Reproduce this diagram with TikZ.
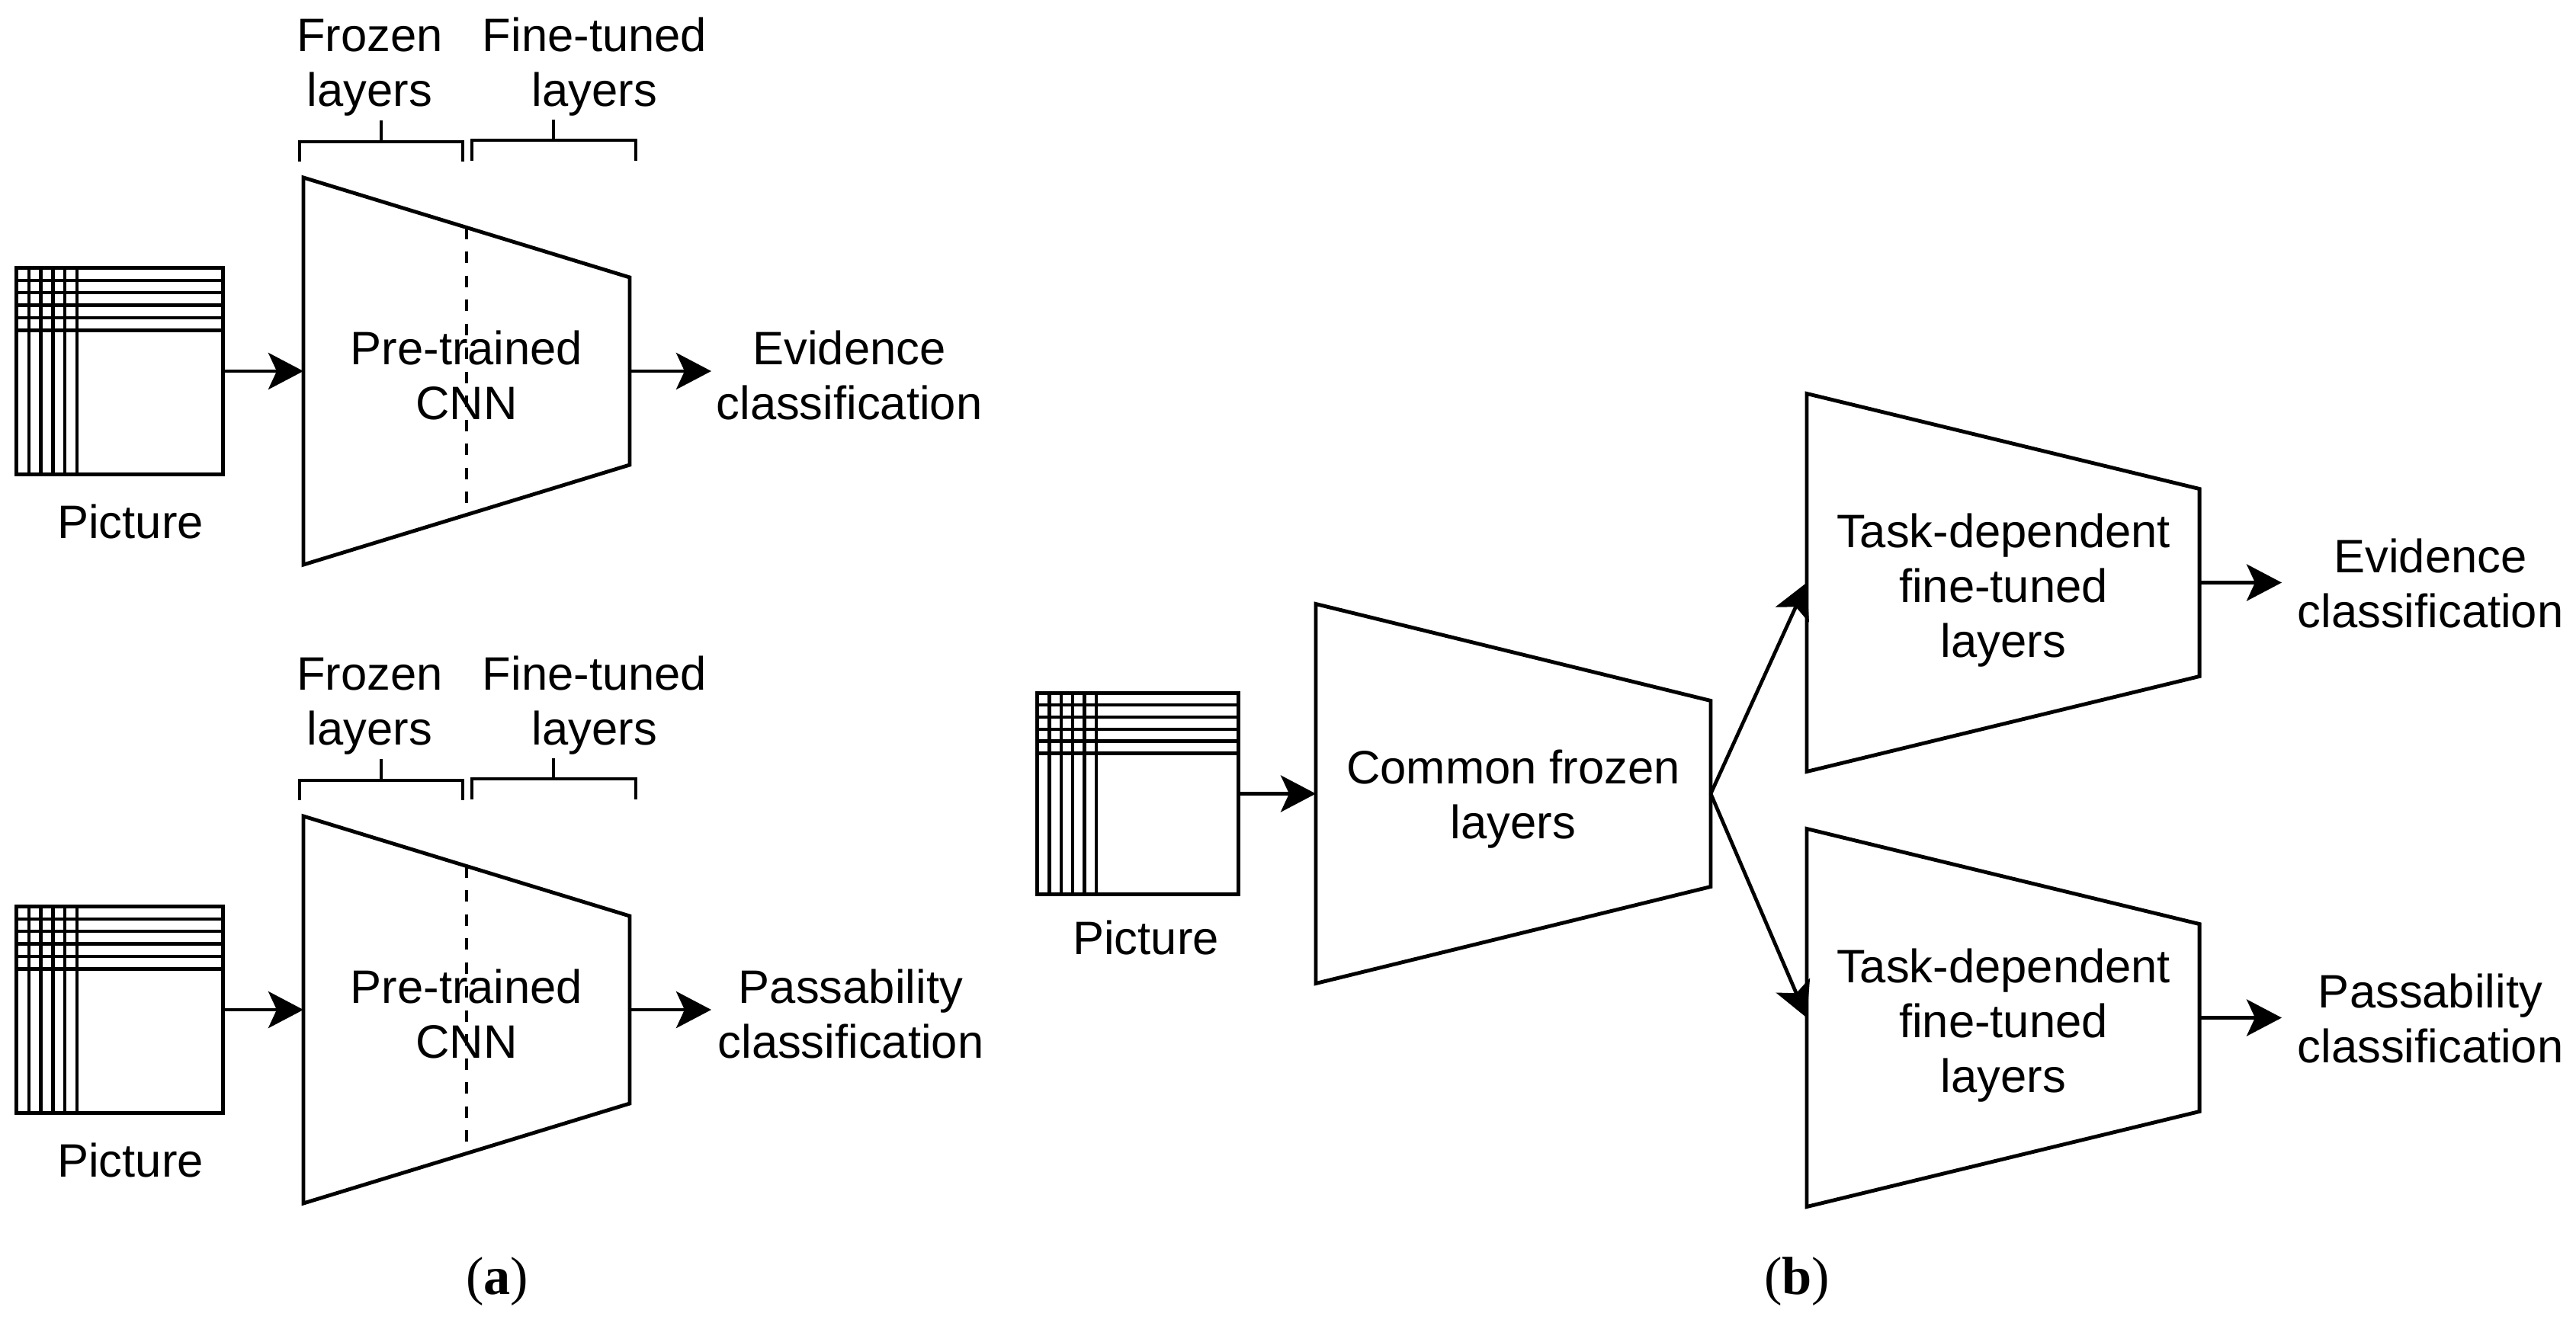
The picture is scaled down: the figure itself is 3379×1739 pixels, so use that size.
\documentclass[tikz,border=0pt]{standalone}
\usepackage{fontspec}
\setmainfont{Liberation Sans}
\newfontfamily\capfont{Liberation Serif}
\usetikzlibrary{arrows.meta}
\tikzset{
  lbl/.style={font=\fontsize{17.5}{20.5}\selectfont, align=center, inner sep=0pt},
  captxt/.style={font=\capfont\fontsize{20}{24}\selectfont, inner sep=0pt, anchor=base},
  shp/.style={line width=1.4pt, line join=miter},
  picbox/.style={draw, line width=1.4pt, rectangle, inner sep=0pt, outer sep=0pt},
  gridln/.style={line width=1.25pt},
  dashln/.style={line width=1.35pt, dash pattern=on 0.15cm off 0.165cm},
  brk/.style={line width=1.4pt, line join=miter},
  conn/.style={line width=1.35pt, -{Stealth[length=0.46cm,width=0.48cm,inset=0.11cm]}},
}
% trapezoid: name, left x, right x, centre y, left half height, right half height
\newcommand{\mytrap}[6]{%
  \draw[shp] (#2,#4-#5) -- (#3,#4-#6) -- (#3,#4+#6) -- (#2,#4+#5) -- cycle;
  \coordinate (#1-in) at (#2,#4);
  \coordinate (#1-out) at (#3,#4);
}
% grid lines in a picture node: name, x step (cm), y step (cm)
\newcommand{\mygrid}[3]{%
  \foreach \k in {1,...,5} {
    \draw[gridln] ([xshift=\k*#2]#1.north west) -- ([xshift=\k*#2]#1.south west);
    \draw[gridln] ([yshift=-\k*#3]#1.north west) -- ([yshift=-\k*#3]#1.north east);
  }
}
\begin{document}
\begin{tikzpicture}[x=0.01cm,y=-0.01cm]
\useasboundingbox (0,0) rectangle (3379,1739);

% ---------------- panel (a), top ----------------
\node[picbox, minimum width=2.70cm, minimum height=2.71cm] (picA) at (157,487) {};
\mygrid{picA}{0.158cm}{0.164cm}
\node[lbl] (picAlbl) at (171,692) {\strut Picture};
\mytrap{tA}{398}{826}{487}{254}{123}
\draw[dashln] (612,298.5) -- (612,675.5);
\draw[brk] (393,212) -- (393,186) -- (607,186) -- (607,212);
\draw[brk] (500,186) -- (500,158);
\draw[brk] (619,211) -- (619,184) -- (834,184) -- (834,211);
\draw[brk] (726,184) -- (726,157);
\node[lbl] (frzA) at (485,89) {\strut Frozen\\\strut layers};
\node[lbl] (finA) at (780,89) {\strut Fine-tuned\\\strut layers};
\node[lbl] (cnnA) at (612,500) {\strut Pre-trained\\\strut CNN};
\node[lbl] (evA) at (1114,500) {\strut Evidence\\\strut classification};
\coordinate (evAtip) at (933,487);
\draw[conn] (picA.east) -- (tA-in);
\draw[conn] (tA-out) -- (evAtip);

% ---------------- panel (a), bottom ----------------
\node[picbox, minimum width=2.70cm, minimum height=2.71cm] (picA2) at (157,1325) {};
\mygrid{picA2}{0.158cm}{0.164cm}
\node[lbl] (picA2lbl) at (171,1530) {\strut Picture};
\mytrap{tA2}{398}{826}{1325}{254}{123}
\draw[dashln] (612,1136.5) -- (612,1513.5);
\draw[brk] (393,1050) -- (393,1024) -- (607,1024) -- (607,1050);
\draw[brk] (500,1024) -- (500,996);
\draw[brk] (619,1049) -- (619,1022) -- (834,1022) -- (834,1049);
\draw[brk] (726,1022) -- (726,995);
\node[lbl] (frzA2) at (485,927) {\strut Frozen\\\strut layers};
\node[lbl] (finA2) at (780,927) {\strut Fine-tuned\\\strut layers};
\node[lbl] (cnnA2) at (612,1338) {\strut Pre-trained\\\strut CNN};
\node[lbl] (paA) at (1116,1338) {\strut Passability\\\strut classification};
\coordinate (paAtip) at (933,1325);
\draw[conn] (picA2.east) -- (tA2-in);
\draw[conn] (tA2-out) -- (paAtip);

\node[captxt] (capA) at (652,1698) {(\textbf{a})};

% ---------------- panel (b) ----------------
\node[picbox, minimum width=2.63cm, minimum height=2.64cm] (picB) at (1492.5,1041.5) {};
\mygrid{picB}{0.154cm}{0.158cm}
\node[lbl] (picBlbl) at (1503,1238) {\strut Picture};
\mytrap{cB}{1726}{2244}{1041.5}{249}{122}
\node[lbl] (cBlbl) at (1985,1050) {\strut Common frozen\\\strut layers};
\mytrap{tB1}{2370}{2885}{764.5}{248}{123}
\node[lbl] (tB1lbl) at (2628,776) {\strut Task-dependent\\\strut fine-tuned\\\strut layers};
\mytrap{tB2}{2370}{2885}{1335.5}{248}{123}
\node[lbl] (tB2lbl) at (2628,1347) {\strut Task-dependent\\\strut fine-tuned\\\strut layers};
\node[lbl] (evB) at (3188,773) {\strut Evidence\\\strut classification};
\node[lbl] (paB) at (3188,1344) {\strut Passability\\\strut classification};
\coordinate (evBtip) at (2993,764.5);
\coordinate (paBtip) at (2993,1335.5);
\draw[conn] (picB.east) -- (cB-in);
\draw[conn] (cB-out) -- (tB1-in);
\draw[conn] (cB-out) -- (tB2-in);
\draw[conn] (tB1-out) -- (evBtip);
\draw[conn] (tB2-out) -- (paBtip);

\node[captxt] (capB) at (2357,1698) {(\textbf{b})};
\end{tikzpicture}
\end{document}
